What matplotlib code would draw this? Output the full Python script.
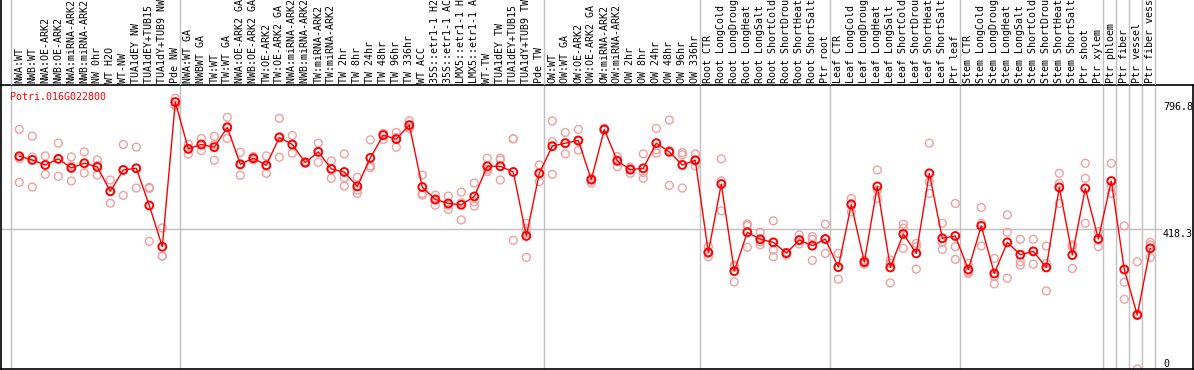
import numpy as np
import matplotlib
matplotlib.use("Agg")
import matplotlib.pyplot as plt
import matplotlib.transforms as mtransforms

gene = "Potri.016G022800"

labels = [
    "NWA:WT", "NWB:WT", "NWA:OE-ARK2", "NWB:OE-ARK2", "NWA:miRNA-ARK2", "NWB:miRNA-ARK2",
    "NW 0hr", "WT H2O", "WT-NW", "TUA1dEY NW", "TUA1dEY+TUB15 NW", "TUA1dY+TUB9 NW", "Pde NW",
    "NWA:WT GA", "NWBWT GA", "TW:WT", "TW:WT GA", "NWA:OE-ARK2 GA", "NWB:OE-ARK2 GA",
    "TW:OE-ARK2", "TW:OE-ARK2 GA", "NWA:miRNA-ARK2 GA", "NWB:miRNA-ARK2 GA", "TW:miRNA-ARK2",
    "TW:miRNA-ARK2 GA", "TW 2hr", "TW 8hr", "TW 24hr", "TW 48hr", "TW 96hr", "TW 336hr", "WT ACC",
    "35S::etr1-1 H2O", "35S::etr1-1 ACC", "LMX5::etr1-1 H2O", "LMX5::etr1-1 ACC", "WT-TW",
    "TUA1dEY TW", "TUA1dEY+TUB15 TW", "TUA1dY+TUB9 TW", "Pde TW",
    "OW:WT", "OW:WT GA", "OW:OE-ARK2", "OW:OE-ARK2 GA", "OW:miRNA-ARK2", "OW:miRNA-ARK2 GA",
    "OW 2hr", "OW 8hr", "OW 24hr", "OW 48hr", "OW 96hr", "OW 336hr",
    "Root CTR", "Root LongCold", "Root LongDrought", "Root LongHeat", "Root LongSalt",
    "Root ShortCold", "Root ShortDrought", "Root ShortHeat", "Root ShortSalt", "Ptr root",
    "Leaf CTR", "Leaf LongCold", "Leaf LongDrought", "Leaf LongHeat", "Leaf LongSalt",
    "Leaf ShortCold", "Leaf ShortDrought", "Leaf ShortHeat", "Leaf ShortSalt", "Ptr leaf",
    "Stem CTR", "Stem LongCold", "Stem LongDrought", "Stem LongHeat", "Stem LongSalt",
    "Stem ShortCold", "Stem ShortDrought", "Stem ShortHeat", "Stem ShortSalt", "Ptr shoot",
    "Ptr xylem", "Ptr phloem", "Ptr fiber", "Ptr vessel", "Ptr fiber vessel",
]

# number of samples in each group (group separators drawn between them)
group_sizes = [13, 28, 12, 10, 10, 11, 1, 1, 1, 1]

means = [
    635, 624, 609, 627, 600, 614, 603, 530, 594, 599, 488, 365, 796.8,
    657, 670, 662, 721, 611, 629, 608, 691, 670, 616, 648, 597, 588, 545, 630, 698, 686,
    728, 543, 506, 494, 490, 515, 605, 605, 588, 397, 584,
    665, 674, 682, 565, 715, 621, 595, 599, 674, 648, 609, 623,
    348, 552, 292, 408, 387, 378, 346, 385, 368, 388,
    304, 491, 319, 545, 303, 403, 345, 584, 390, 397,
    297, 427, 285, 378, 341, 351, 303, 542, 340, 539, 388,
    561, 297, 161, 360,
]

replicates = [
    [715, 628, 557], [695, 633, 543], [636, 608, 581], [674, 627, 575], [633, 606, 561],
    [648, 614, 585], [624, 608, 579], [564, 531, 495], [670, 594, 518], [662, 599, 540],
    [542, 539, 381], [421, 337, 337], [808, 788, 785],
    [671, 641, 657], [688, 652, 670], [694, 623, 669], [751, 688, 723], [647, 578, 609],
    [634, 629, 624], [636, 584, 606], [748, 632, 693], [697, 644, 670], [619, 614, 616],
    [674, 617, 648], [621, 569, 599], [642, 571, 546], [572, 534, 524], [684, 601, 606],
    [703, 685, 703], [706, 662, 691], [741, 718, 723], [579, 524, 519], [519, 489, 504],
    [516, 476, 489], [528, 445, 496], [555, 486, 499], [629, 589, 596], [629, 624, 564],
    [687, 687, 384], [435, 420, 405, 333], [609, 559, 584],
    [740, 678, 581], [706, 642, 674], [715, 653, 680], [569, 555, 569], [718, 713, 715],
    [634, 604, 624], [602, 584, 599], [642, 569, 586], [718, 654, 644], [743, 652, 548],
    [646, 639, 540], [642, 606, 622],
    [365, 335, 345], [627, 561, 472], [310, 305, 260], [433, 428, 363], [408, 371, 380],
    [442, 355, 335], [348, 340, 346], [400, 373, 383], [395, 387, 324], [432, 345, 388],
    [345, 268, 304], [509, 494, 469], [325, 313, 319], [594, 534, 509], [325, 315, 257],
    [432, 420, 360], [375, 365, 298], [674, 559, 524], [435, 378, 357], [494, 365, 327],
    [315, 285, 290], [482, 435, 367], [330, 276, 254], [460, 408, 271], [387, 320, 310],
    [387, 313, 351], [367, 315, 233], [584, 554, 494], [370, 365, 300], [614, 569, 435],
    [410, 385, 365], [614, 544, 524], [427, 259, 208], [320, 0, 164], [378, 370, 333],
]

y_marks = [796.8, 418.3, 0]

# ---------------- layout ----------------
W, H = 1194, 370
fig = plt.figure(figsize=(W / 100, H / 100), dpi=100)
fig.patch.set_facecolor("white")

mono = "DejaVu Sans Mono"
fs = 7.2

px_left, px_right = 1, 1193
plot_top, plot_bottom = 85, 369
step = 13.0
first_center = 19.3
xmin = (px_left - first_center) / step
xmax = (px_right - first_center) / step
ymax = max(means) * (plot_bottom - plot_top) / 267.0

ax = fig.add_axes([px_left / W, (H - plot_bottom) / H,
                   (px_right - px_left) / W, (plot_bottom - plot_top) / H])
ax.set_xlim(xmin, xmax)
ax.set_ylim(0, ymax)
ax.set_xticks([])
ax.set_yticks([])
for s in ax.spines.values():
    s.set_color("black")
    s.set_linewidth(1.2)

# label axes above
axl = fig.add_axes([px_left / W, (H - plot_top) / H,
                    (px_right - px_left) / W, plot_top / H])
axl.set_xlim(xmin, xmax)
axl.set_ylim(0, 1)
axl.set_xticks([])
axl.set_yticks([])
for k, s in axl.spines.items():
    s.set_visible(k == "left")
axl.spines["left"].set_linewidth(1.2)
axl.patch.set_alpha(0)

# separators
bounds = np.cumsum([0] + group_sizes)
offset = (11 - first_center) / step  # separator offset relative to column centre
for b in bounds:
    xb = b + offset
    ax.axvline(xb, color="#c0c0c0", lw=1, zorder=0)
    axl.axvline(xb, color="#c0c0c0", lw=1, zorder=0)

# horizontal grid line at middle value
grid_end = (1161 - px_left) / (px_right - px_left)
ax.axhline(y_marks[1], xmin=0, xmax=grid_end, color="#c0c0c0", lw=1, zorder=0)

x = np.arange(len(labels))

# replicate points
for i, reps in enumerate(replicates):
    ax.scatter([x[i]] * len(reps), reps, s=32, facecolors="none",
               edgecolors="#f0a0a0", linewidths=1.0, zorder=2, clip_on=False)

# mean line + markers
ax.plot(x, means, color="red", lw=1.0, zorder=3)
ax.scatter(x, means, s=32, facecolors="none", edgecolors="red",
           linewidths=1.4, zorder=4, clip_on=False)

# sample labels (vertical)
for i, lab in enumerate(labels):
    axl.text(x[i], 0.025, lab, rotation=90, ha="center", va="bottom",
             family=mono, fontsize=fs, color="black", clip_on=False)

# gene title
ax.text(9 / (px_right - px_left), 1 - 7 / (plot_bottom - plot_top), gene,
        transform=ax.transAxes, ha="left", va="top", family=mono,
        fontsize=fs, color="red")

# right-side value labels
xt = 1163
tr = mtransforms.blended_transform_factory(fig.transFigure, ax.transData)
for v in y_marks:
    txt = f"{v:g}" if v != 0 else "0"
    va = "top" if v > 0 else "bottom"
    ax.text(xt / W, v, txt, transform=tr, ha="left", va=va,
            family=mono, fontsize=fs, color="black")

fig.savefig("out.png", dpi=100, facecolor="white")
